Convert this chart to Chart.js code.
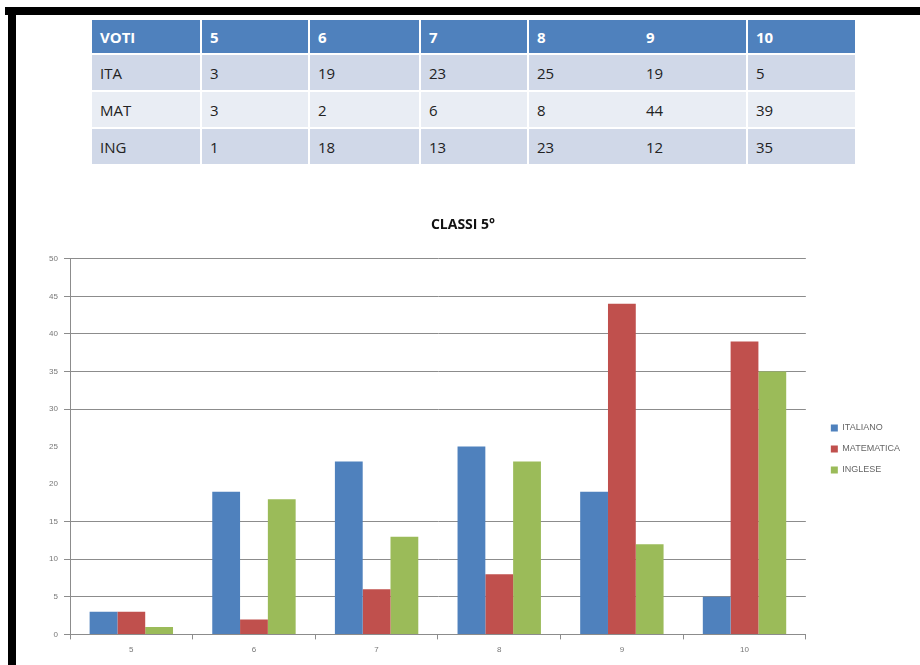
<!DOCTYPE html>
<html>
<head>
<meta charset="utf-8">
<script src="https://cdn.jsdelivr.net/npm/chart.js@4"></script>
<style>
  html, body { margin: 0; padding: 0; background: #fff; }
  body { width: 920px; height: 665px; position: relative; overflow: hidden; font-family: "Open Sans", "Liberation Sans", sans-serif; }
  #topBar { position: absolute; left: 5px; top: 7px; width: 915px; height: 8px; background: #000; }
  #leftBar { position: absolute; left: 8px; top: 7px; width: 8px; height: 658px; background: #000; }
  #voti { position: absolute; left: 92px; top: 20px; width: 763px; table-layout: fixed; border-collapse: collapse; font-size: 15px; }
  #voti td, #voti th { padding: 0 0 0 8px; text-align: left; height: 35px; border: 2px solid #fff; border-top: 0; overflow: hidden; white-space: nowrap; }
  #voti th { background: #4f81bd; color: #fff; font-weight: bold; height: 33px; }
  #voti tr.odd td { background: #d0d8e8; color: #222; }
  #voti tr.even td { background: #e9edf4; color: #222; }
  #voti .noR { border-right: none; }
  #voti .noL { border-left: none; }
  #voti tr > *:first-child { border-left: none; }
  #voti tr > *:last-child { border-right: none; }
  #wrap { position: absolute; left: 16px; top: 195px; width: 904px; height: 470px; }
</style>
</head>
<body>
<div id="topBar"></div>
<div id="leftBar"></div>
<table id="voti"></table>
<div id="wrap"><canvas id="chartClassi"></canvas></div>
<script>
const voti = ['5', '6', '7', '8', '9', '10'];
const ita = [3, 19, 23, 25, 19, 5];
const mat = [3, 2, 6, 8, 44, 39];
const ing = [1, 18, 13, 23, 12, 35];
const rowNames = ['ITA', 'MAT', 'ING'];
const seriesNames = ['ITALIANO', 'MATEMATICA', 'INGLESE'];

// table above the chart
const colWidths = [109, 108, 111, 108, 110, 109, 108];
const sepClass = i => (i === 4 ? ' class="noR"' : i === 5 ? ' class="noL"' : '');
const table = document.getElementById('voti');
let html = '<colgroup>' + colWidths.map(w => '<col style="width:' + w + 'px">').join('') + '</colgroup><tr>';
['VOTI'].concat(voti).forEach((v, i) => { html += '<th' + sepClass(i) + '>' + v + '</th>'; });
html += '</tr>';
[ita, mat, ing].forEach((row, r) => {
  html += '<tr class="' + (r % 2 === 0 ? 'odd' : 'even') + '"><td>' + rowNames[r] + '</td>';
  row.forEach((v, i) => { html += '<td' + sepClass(i + 1) + '>' + v + '</td>'; });
  html += '</tr>';
});
table.innerHTML = html;

const gridCol = '#8c8c8c';
const hideAt = [20, 25];

// push the legend a bit away from the plot and down
const legendGap = 13, legendDrop = 21;
const legendShift = {
  id: 'legendShift',
  beforeInit(chart) {
    const fit = chart.legend.fit;
    chart.legend.fit = function () { fit.call(this); this.width += legendGap; };
  },
  afterLayout(chart) {
    const lg = chart.legend;
    lg.left += legendGap;
    lg.top += legendDrop;
    lg.bottom += legendDrop;
  }
};

new Chart(document.getElementById('chartClassi'), {
  type: 'bar',
  data: {
    labels: voti,
    datasets: [
      { label: seriesNames[0], data: ita, backgroundColor: '#4f81bd' },
      { label: seriesNames[1], data: mat, backgroundColor: '#c0504d' },
      { label: seriesNames[2], data: ing, backgroundColor: '#9bbb59' }
    ]
  },
  options: {
    responsive: true,
    maintainAspectRatio: false,
    animation: false,
    datasets: { bar: { categoryPercentage: 0.68, barPercentage: 1 } },
    layout: { padding: { left: 0, right: 10, top: 0, bottom: 4 } },
    plugins: {
      title: {
        display: true,
        text: 'CLASSI 5°',
        color: '#111',
        font: { family: 'Open Sans', size: 14, weight: 'bold' },
        padding: { top: 22, bottom: 25 }
      },
      legend: {
        position: 'right',
        labels: {
          boxWidth: 7, boxHeight: 7, padding: 12,
          color: '#666',
          font: { family: 'Liberation Sans', size: 9 }
        }
      },
      tooltip: { enabled: false }
    },
    scales: {
      x: {
        grid: { offset: true, drawOnChartArea: false, color: gridCol, tickLength: 5 },
        border: { color: gridCol },
        ticks: { color: '#777', font: { size: 8 }, padding: 6 }
      },
      y: {
        min: 0, max: 50,
        afterFit: s => { s.width = 54; },
        grid: {
          color: c => (c.tick && hideAt.includes(c.tick.value)) ? 'rgba(0,0,0,0)' : gridCol,
          tickLength: 6
        },
        border: { color: gridCol },
        ticks: { stepSize: 5, color: '#777', font: { size: 8 }, padding: 6 }
      }
    }
  },
  plugins: [legendShift]
});
</script>
</body>
</html>
